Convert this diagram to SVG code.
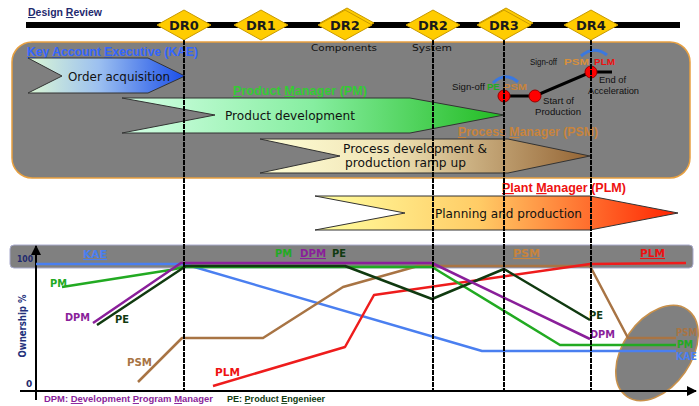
<svg xmlns="http://www.w3.org/2000/svg" width="699" height="406" viewBox="0 0 699 406">
<defs>
  <linearGradient id="gOrder" x1="0" x2="1" y1="0" y2="0">
    <stop offset="0" stop-color="#dcf8d4"/>
    <stop offset="0.45" stop-color="#9cc0f0"/>
    <stop offset="1" stop-color="#1a4ee8"/>
  </linearGradient>
  <linearGradient id="gProd" x1="0" x2="1" y1="0" y2="0">
    <stop offset="0" stop-color="#d4ffe6"/>
    <stop offset="0.5" stop-color="#86eea0"/>
    <stop offset="1" stop-color="#22bb22"/>
  </linearGradient>
  <linearGradient id="gProc" x1="0" x2="1" y1="0" y2="0">
    <stop offset="0" stop-color="#ffffd6"/>
    <stop offset="0.4" stop-color="#efe2b4"/>
    <stop offset="1" stop-color="#946434"/>
  </linearGradient>
  <linearGradient id="gPlan" x1="0" x2="1" y1="0" y2="0">
    <stop offset="0" stop-color="#ffffa0"/>
    <stop offset="0.45" stop-color="#ffcc66"/>
    <stop offset="1" stop-color="#ff2200"/>
  </linearGradient>
  <marker id="ax" viewBox="0 0 10 10" refX="9" refY="5" markerWidth="5" markerHeight="5" orient="auto" markerUnits="strokeWidth">
    <path d="M0,0 L10,5 L0,10 z" fill="#000"/>
  </marker>
</defs>
<style>
  text{font-family:"DejaVu Sans","Liberation Sans",sans-serif}
  .ls{font-family:"Liberation Sans",Arial,sans-serif}
  .dia{fill:#ffcc00;stroke:#c89a00;stroke-width:1}
  .dtx{font-weight:bold;font-size:13px;fill:#1a1a1a;text-anchor:middle}
  .vl{stroke:#000;stroke-width:2;stroke-dasharray:5 1;fill:none}
  .arw{stroke:#333;stroke-width:1}
  .at{font-size:13px;fill:#111}
  .u{text-decoration:underline}
  .cl{fill:none;stroke-width:2.5;stroke-linejoin:round}
  .sm{font-size:9.5px;fill:#111}
  .lab{font-weight:bold;font-size:11px}
  .hdr{font-family:"Liberation Sans",Arial,sans-serif;font-weight:bold;font-size:12px}
</style>

<!-- Design review title and timeline -->
<g id="title">
  <text x="28" y="16" class="ls" font-size="10.5" font-weight="bold" fill="#1f2a6e" textLength="74" lengthAdjust="spacingAndGlyphs"><tspan class="u">D</tspan>esign <tspan class="u">R</tspan>eview</text>
  <rect x="26" y="22" width="654" height="6" fill="#000"/>
</g>

<!-- gray swimlane box -->
<rect id="lanebox" x="12" y="42" width="678" height="136" rx="20" fill="#7f7f7f" stroke="#e8a040" stroke-width="1.5"/>

<g id="stage-labels">
  <text x="344" y="51" class="sm" text-anchor="middle" textLength="66" lengthAdjust="spacingAndGlyphs">Components</text>
  <text x="432" y="51" class="sm" text-anchor="middle" textLength="40" lengthAdjust="spacingAndGlyphs">System</text>
</g>

<g id="order-acquisition">
  <text x="27" y="56" class="hdr" fill="#3366ff" textLength="171" lengthAdjust="spacingAndGlyphs"><tspan class="u">K</tspan>ey <tspan class="u">A</tspan>ccount <tspan class="u">E</tspan>xecutive (KAE)</text>
  <polygon class="arw" points="28,58 148,58 185,76 148,93 28,93 62,76" fill="url(#gOrder)"/>
  <text x="68" y="81" class="at" textLength="102" lengthAdjust="spacingAndGlyphs">Order acquisition</text>
</g>

<g id="product-development">
  <text x="233" y="95" class="hdr" fill="#33cc33" textLength="134" lengthAdjust="spacingAndGlyphs"><tspan class="u">P</tspan>roduct <tspan class="u">M</tspan>anager (PM)</text>
  <polygon class="arw" points="122,98 410,98 504,115 410,133 122,133 215,115" fill="url(#gProd)"/>
  <text x="225" y="120" class="at" textLength="130" lengthAdjust="spacingAndGlyphs">Product development</text>
</g>

<g id="process-development">
  <text x="458" y="136" class="hdr" fill="#c8843c" textLength="140" lengthAdjust="spacingAndGlyphs"><tspan class="u">P</tspan>rocess <tspan class="u">M</tspan>anager (PSM)</text>
  <polygon class="arw" points="260,139 508,139 590,156 508,173 260,173 340,156" fill="url(#gProc)"/>
  <text x="343" y="153" font-size="12" fill="#111" textLength="144" lengthAdjust="spacingAndGlyphs">Process development &amp;</text>
  <text x="345" y="167" font-size="12" fill="#111" textLength="121" lengthAdjust="spacingAndGlyphs">production ramp up</text>
</g>

<g id="planning-production">
  <text x="502" y="192" class="hdr" fill="#ee1111" textLength="124" lengthAdjust="spacingAndGlyphs"><tspan class="u">Pl</tspan>ant <tspan class="u">M</tspan>anager (PLM)</text>
  <polygon class="arw" points="315,196 590,196 678,213 590,230 315,230 405,213" fill="url(#gPlan)"/>
  <text x="435" y="218" class="at" textLength="147" lengthAdjust="spacingAndGlyphs">Planning and production</text>
</g>

<!-- chart band -->
<rect id="chartband" x="10" y="245" width="683" height="23" rx="4" fill="#808080" stroke="#a8aacc" stroke-width="1"/>

<!-- ellipse -->
<ellipse id="endellipse" cx="657" cy="353" rx="53" ry="34" transform="rotate(-55 657 353)" fill="#808080" stroke="#c8904a" stroke-width="1.5"/>

<!-- axes -->
<g id="axes" stroke="#000" stroke-width="2" fill="none">
  <line x1="36" y1="400" x2="36" y2="246" marker-end="url(#ax)"/>
  <line x1="20" y1="391" x2="696" y2="391" marker-end="url(#ax)"/>
</g>
<g id="axis-labels">
  <text x="17" y="262" font-size="9" font-weight="bold" fill="#1f2a6e" textLength="16" lengthAdjust="spacingAndGlyphs">100</text>
  <text x="26" y="387" font-size="9" font-weight="bold" fill="#1f2a6e">0</text>
  <text transform="translate(26,326) rotate(-90)" text-anchor="middle" font-size="10" font-weight="bold" fill="#23307a" textLength="63" lengthAdjust="spacingAndGlyphs">Ownership %</text>
</g>

<!-- chart lines -->
<g id="chart-lines">
  <polyline class="cl" stroke="#4a7ff0" points="36,264 184,264 482,351 676,351"/>
  <polyline class="cl" stroke="#a87444" points="138,382 182,338 263,338 343,287 418,266 590,266 628,338 676,338"/>
  <polyline class="cl" stroke="#ee1c1c" points="213,386 345,347 374,295 590,264 686,263"/>
  <polyline class="cl" stroke="#22aa22" points="62,287 170,270 184,267 432,267 560,345 676,345"/>
  <polyline class="cl" stroke="#103a10" points="97,325 186,266 345,266 432,299 504,269 590,320"/>
  <polyline class="cl" stroke="#8a1f9a" points="93,323 181,263 432,263 590,339"/>
</g>

<g id="chart-labels" class="lab">
  <text x="83" y="258" fill="#4a7ff0" class="u" textLength="24" lengthAdjust="spacingAndGlyphs">KAE</text>
  <text x="275" y="257" fill="#22aa22" textLength="17" lengthAdjust="spacingAndGlyphs">PM</text>
  <text x="300" y="257" fill="#8a1f9a" class="u" textLength="26" lengthAdjust="spacingAndGlyphs">DPM</text>
  <text x="332" y="257" fill="#103a10" textLength="14" lengthAdjust="spacingAndGlyphs">PE</text>
  <text x="513" y="257" fill="#c8843c" class="u" textLength="27" lengthAdjust="spacingAndGlyphs">PSM</text>
  <text x="640" y="257" fill="#ee1111" class="u" textLength="25" lengthAdjust="spacingAndGlyphs">PLM</text>

  <text x="50" y="287" fill="#22aa22" textLength="17" lengthAdjust="spacingAndGlyphs">PM</text>
  <text x="65" y="321" fill="#8a1f9a" textLength="25" lengthAdjust="spacingAndGlyphs">DPM</text>
  <text x="115" y="323" fill="#103a10" textLength="14" lengthAdjust="spacingAndGlyphs">PE</text>
  <text x="127" y="366" fill="#a87444" textLength="25" lengthAdjust="spacingAndGlyphs">PSM</text>
  <text x="215" y="376" fill="#ee1111" textLength="25" lengthAdjust="spacingAndGlyphs">PLM</text>

  <text x="589" y="319" fill="#103a10" textLength="14" lengthAdjust="spacingAndGlyphs">PE</text>
  <text x="590" y="338" fill="#8a1f9a" textLength="25" lengthAdjust="spacingAndGlyphs">DPM</text>
  <text x="697" y="336" fill="#a87444" font-size="10" text-anchor="end" textLength="21" lengthAdjust="spacingAndGlyphs">PSM</text>
  <text x="677" y="348" fill="#22aa22" textLength="16" lengthAdjust="spacingAndGlyphs">PM</text>
  <text x="697" y="360" fill="#4a7ff0" font-size="10" text-anchor="end" textLength="21" lengthAdjust="spacingAndGlyphs">KAE</text>
</g>

<g id="legend" class="ls" font-weight="bold">
  <text x="44" y="402" class="ls" font-size="9.5" fill="#8a1f9a" textLength="169" lengthAdjust="spacingAndGlyphs">DPM: <tspan class="u">De</tspan>velopment <tspan class="u">P</tspan>rogram <tspan class="u">M</tspan>anager</text>
  <text x="227" y="402" class="ls" font-size="9" fill="#103a10" textLength="98" lengthAdjust="spacingAndGlyphs">PE: <tspan class="u">P</tspan>roduct <tspan class="u">E</tspan>ngenieer</text>
</g>

<!-- milestones -->
<g id="milestones">
  <polyline points="504,96 535,96 591,72 612,72" fill="none" stroke="#000" stroke-width="3"/>
  <circle cx="504" cy="96" r="6" fill="#ff0000" stroke="#990000" stroke-width="1"/>
  <circle cx="535" cy="96" r="6" fill="#ff0000" stroke="#990000" stroke-width="1"/>
  <circle cx="591" cy="72" r="6" fill="#ff0000" stroke="#990000" stroke-width="1"/>
  <text x="543" y="104" class="sm ls" font-size="9.5" textLength="31" lengthAdjust="spacingAndGlyphs">Start of</text>
  <text x="535" y="115" class="sm ls" font-size="9.5" textLength="46" lengthAdjust="spacingAndGlyphs">Production</text>
  <text x="599" y="83" class="sm ls" font-size="9.5" textLength="27" lengthAdjust="spacingAndGlyphs">End of</text>
  <text x="588" y="94" class="sm ls" font-size="9.5" textLength="51" lengthAdjust="spacingAndGlyphs">Acceleration</text>
</g>

<g id="signoff-1">
  <text x="452" y="90" class="sm ls" font-size="9.5" textLength="33" lengthAdjust="spacingAndGlyphs">Sign-off</text>
  <text x="487" y="90" class="ls" font-size="9.5" font-weight="bold" fill="#22aa22">PE</text>
  <text x="503" y="90" class="ls" font-size="9.5" font-weight="bold" fill="#c8843c" textLength="24" lengthAdjust="spacingAndGlyphs">PSM</text>
  <path d="M493,83 Q505,71 518,82" fill="none" stroke="#3a78e0" stroke-width="3"/>
</g>

<g id="signoff-2">
  <text x="530" y="65" class="sm ls" font-size="8" textLength="27" lengthAdjust="spacingAndGlyphs">Sign-off</text>
  <text x="564" y="65" class="ls" font-size="9.5" font-weight="bold" fill="#d8903c" textLength="25" lengthAdjust="spacingAndGlyphs">PSM</text>
  <text x="594" y="65" class="ls" font-size="9.5" font-weight="bold" fill="#ee1111" textLength="21" lengthAdjust="spacingAndGlyphs">PLM</text>
  <path d="M581,56 Q594,45 607,55" fill="none" stroke="#3a78e0" stroke-width="3"/>
</g>

<!-- connectors: milestone drop lines -->
<g id="connectors">
  <line class="vl" x1="184" y1="40" x2="184" y2="391"/>
  <line class="vl" x1="433" y1="40" x2="433" y2="391"/>
  <line class="vl" x1="504" y1="40" x2="504" y2="391"/>
  <line class="vl" x1="591" y1="40" x2="591" y2="391"/>
</g>

<!-- design review diamonds -->
<g id="dr0"><polygon class="dia" points="157,25 184,10 211,25 184,40"/><text class="dtx" x="184" y="30">DR0</text></g>
<g id="dr1"><polygon class="dia" points="234,25 261,10 288,25 261,40"/><text class="dtx" x="261" y="30">DR1</text></g>
<g id="dr2-components"><polygon class="dia" points="320,23 347,8 374,23 347,38"/><polygon class="dia" points="318,25 345,10 372,25 345,40"/><text class="dtx" x="345" y="30">DR2</text></g>
<g id="dr2-system"><polygon class="dia" points="406,25 433,10 460,25 433,40"/><text class="dtx" x="433" y="30">DR2</text></g>
<g id="dr3"><polygon class="dia" points="479,23 506,8 533,23 506,38"/><polygon class="dia" points="477,25 504,10 531,25 504,40"/><text class="dtx" x="504" y="30">DR3</text></g>
<g id="dr4"><polygon class="dia" points="564,25 591,10 618,25 591,40"/><text class="dtx" x="591" y="30">DR4</text></g>
</svg>
